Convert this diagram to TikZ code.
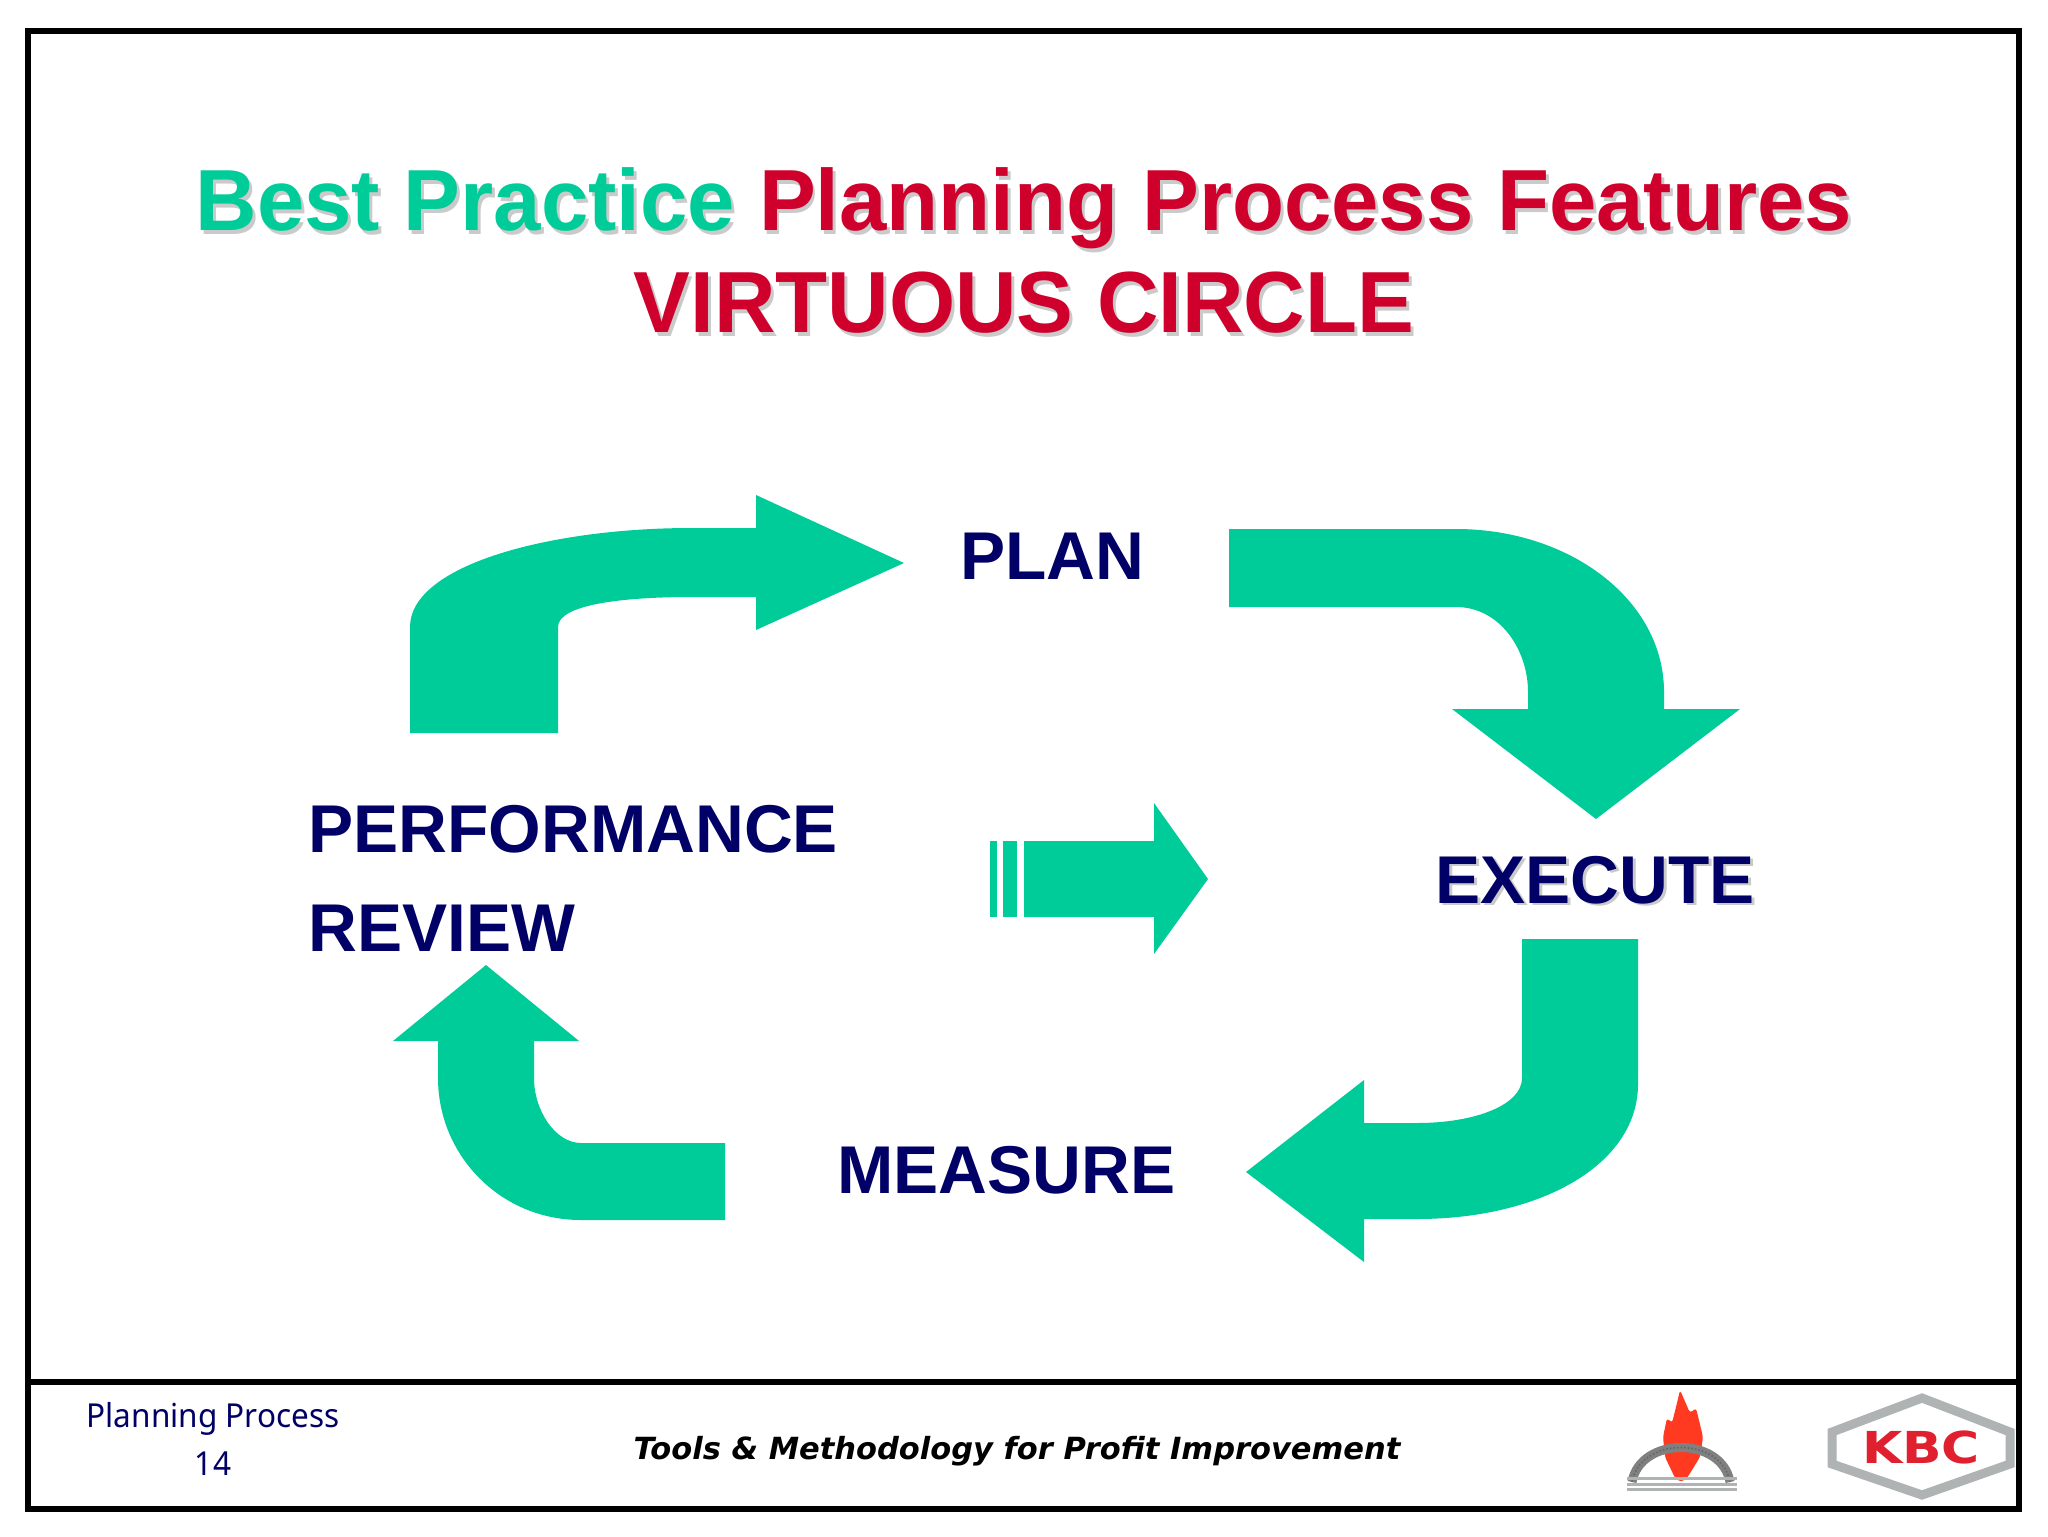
\documentclass[tikz,border=0pt]{standalone}
\usepackage{fontspec}
\setmainfont{Liberation Sans}
\newfontfamily\footfont{Noto Sans}
\newfontfamily\tagfont{DejaVu Sans}
\definecolor{virtuegreen}{HTML}{00CC99}
\definecolor{virtuered}{HTML}{D0002C}
\definecolor{virtuenavy}{HTML}{000066}
\definecolor{shadowgray}{HTML}{CACACA}
\definecolor{logogray}{HTML}{B0B3B3}
\definecolor{logored}{HTML}{E0202E}
\definecolor{flamered}{HTML}{FF3A20}
\tikzset{
	blockarrow/.style={fill=virtuegreen,draw=none},
	titletext/.style={anchor=base,inner sep=0pt,xscale=0.981,font=\fontsize{43.4}{50}\selectfont\bfseries},
	steptext/.style={anchor=base west,inner sep=0pt,text=virtuenavy,font=\fontsize{33.8}{40}\selectfont\bfseries},
	foottext/.style={anchor=base,inner sep=0pt,text=virtuenavy,xscale=0.955,font=\fontsize{16.5}{20}\selectfont\footfont},
}
\begin{document}
\begin{tikzpicture}[x=0.5pt,y=-0.5pt]
	\useasboundingbox (0,0) rectangle (2048,1536);
	\fill[white] (0,0) rectangle (2048,1536);
	% frame and footer rule
	\draw[line width=3pt] (27.5,31) rectangle (2019,1509);
	\draw[line width=3pt] (27.5,1382) -- (2019,1382);
	% title
	\node[titletext,text=shadowgray] (titleshadow) at (1027,234) {Best Practice Planning Process Features};
	\node[titletext] (title) at (1024,230) {\textcolor{virtuegreen}{Best Practice} \textcolor{virtuered}{Planning Process Features}};
	\node[titletext,text=shadowgray] (circleshadow) at (1027,336) {VIRTUOUS CIRCLE};
	\node[titletext,text=virtuered] (circle) at (1024,332) {VIRTUOUS CIRCLE};
	% the four curved arrows
	\fill[blockarrow] (410,733) -- (410,627) .. controls (410,565) and (550,528) .. (692,528) -- (756,528) -- (756,495) -- (904,563) -- (756,630) -- (756,597) -- (692,597) .. controls (620,597) and (558,605) .. (558,627) -- (558,733) -- cycle;
	\fill[blockarrow] (1229,529) -- (1456,529) .. controls (1570,529) and (1664,600) .. (1664,692) -- (1664,709) -- (1740,709) -- (1596,819) -- (1452,709) -- (1528,709) -- (1528,692) .. controls (1528,650) and (1500,607) .. (1456,607) -- (1229,607) -- cycle;
	\fill[blockarrow] (1522,939) -- (1638,939) -- (1638,1084) .. controls (1638,1165) and (1540,1219) .. (1417,1219) -- (1364,1219) -- (1364,1262) -- (1246,1172) -- (1364,1080) -- (1364,1123) -- (1417,1123) .. controls (1475,1123) and (1522,1105) .. (1522,1078) -- cycle;
	\fill[blockarrow] (725,1143) -- (725,1220) -- (581,1220) .. controls (500,1220) and (438,1155) .. (438,1078) -- (438,1041) -- (393,1041) -- (486,965) -- (579,1041) -- (534,1041) -- (534,1078) .. controls (534,1110) and (555,1143) .. (581,1143) -- cycle;
	% middle arrow with its stripes
	\fill[blockarrow] (990,841) rectangle (997,917);
	\fill[blockarrow] (1003,841) rectangle (1017,917);
	\fill[blockarrow] (1024,841) -- (1154,841) -- (1154,803) -- (1208,879) -- (1154,954) -- (1154,917) -- (1024,917) -- cycle;
	% step labels
	\node[steptext] (plan) at (960,579) {PLAN};
	\node[steptext,text=shadowgray] (executeshadow) at (1438,905) {EXECUTE};
	\node[steptext] (execute) at (1435,903) {EXECUTE};
	\node[steptext] (measure) at (837,1193) {MEASURE};
	\node[steptext] (performance) at (308,852) {PERFORMANCE};
	\node[steptext] (review) at (308,951) {REVIEW};
	% footer
	\node[foottext] (footname) at (213,1427) {Planning Process};
	\node[foottext] (footpage) at (213,1475) {14};
	\node[anchor=base,inner sep=0pt,font=\fontsize{15.25}{18}\selectfont\tagfont\bfseries\itshape] (tagline) at (1017,1459) {Tools \& Methodology for Profit Improvement};
	% flame logo
	\fill[flamered,rounded corners=1.5pt] (1680,1390) -- (1690,1413) -- (1696,1408) -- (1703,1437) -- (1700,1457) -- (1687,1478) -- (1681,1482) -- (1675,1478) -- (1665,1457) -- (1663,1437) -- (1667,1418) -- (1672,1423) -- (1677,1403) -- cycle;
	\draw[gray,line width=4.5pt] (1632,1482) .. controls (1640,1436) and (1722,1436) .. (1730,1482);
	\draw[black!60,densely dotted,line width=0.8pt] (1632,1482) .. controls (1640,1436) and (1722,1436) .. (1730,1482);
	\draw[logogray,line width=1.5pt] (1627,1478) -- (1737,1478) (1627,1484) -- (1737,1484) (1627,1489) -- (1737,1489);
	% KBC logo
	\draw[logogray,line width=4.5pt] (1832,1432) -- (1922,1398) -- (2010,1432) -- (2010,1464) -- (1922,1495) -- (1832,1464) -- cycle;
	\node[anchor=base,inner sep=0pt,text=logored,xscale=1.18,font=\fontsize{22}{24}\selectfont\tagfont\bfseries] (kbc) at (1921,1463) {KBC};
\end{tikzpicture}
\end{document}
